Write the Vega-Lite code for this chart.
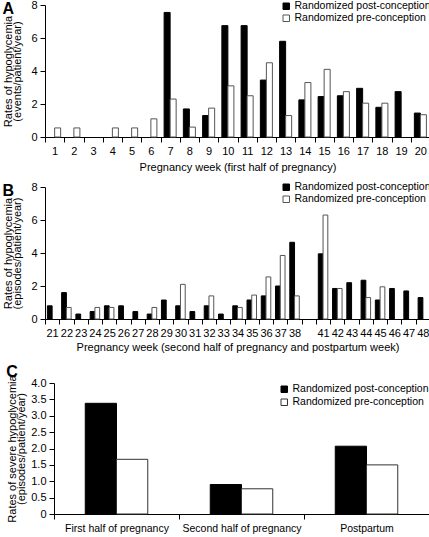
{
  "$schema": "https://vega.github.io/schema/vega-lite/v6.json",
  "padding": {"left": 2, "top": -1, "right": 0, "bottom": 0},
  "background": "white",
  "config": {
    "font": "Liberation Sans",
    "view": {"stroke": null},
    "axis": {"domainColor": "#000", "tickColor": "#000", "labelColor": "#000", "titleColor": "#000", "labelFontSize": 11, "titleFontSize": 11, "titleLineHeight": 9.5, "titleFontWeight": "normal", "grid": false, "tickSize": 5, "labelPadding": 3},
    "legend": {"labelFontSize": 10.5, "labelColor": "#000", "symbolType": "square", "symbolSize": 42, "symbolStrokeWidth": 1, "rowPadding": 1, "labelOffset": 3},
    "title": {"fontSize": 16, "fontWeight": "bold", "anchor": "start", "frame": "bounds", "color": "#000"}
  },
  "datasets": {
    "a": [
      {"week": "1", "group": "Randomized pre-conception", "rate": 0.55},
      {"week": "2", "group": "Randomized pre-conception", "rate": 0.55},
      {"week": "4", "group": "Randomized pre-conception", "rate": 0.55},
      {"week": "5", "group": "Randomized pre-conception", "rate": 0.55},
      {"week": "6", "group": "Randomized pre-conception", "rate": 1.1},
      {"week": "7", "group": "Randomized post-conception", "rate": 7.55},
      {"week": "7", "group": "Randomized pre-conception", "rate": 2.3},
      {"week": "8", "group": "Randomized post-conception", "rate": 1.7},
      {"week": "8", "group": "Randomized pre-conception", "rate": 0.6},
      {"week": "9", "group": "Randomized post-conception", "rate": 1.3},
      {"week": "9", "group": "Randomized pre-conception", "rate": 1.75},
      {"week": "10", "group": "Randomized post-conception", "rate": 6.75},
      {"week": "10", "group": "Randomized pre-conception", "rate": 3.1},
      {"week": "11", "group": "Randomized post-conception", "rate": 6.75},
      {"week": "11", "group": "Randomized pre-conception", "rate": 2.5},
      {"week": "12", "group": "Randomized post-conception", "rate": 3.45},
      {"week": "12", "group": "Randomized pre-conception", "rate": 4.5},
      {"week": "13", "group": "Randomized post-conception", "rate": 5.8},
      {"week": "13", "group": "Randomized pre-conception", "rate": 1.3},
      {"week": "14", "group": "Randomized post-conception", "rate": 2.25},
      {"week": "14", "group": "Randomized pre-conception", "rate": 3.3},
      {"week": "15", "group": "Randomized post-conception", "rate": 2.45},
      {"week": "15", "group": "Randomized pre-conception", "rate": 4.1},
      {"week": "16", "group": "Randomized post-conception", "rate": 2.5},
      {"week": "16", "group": "Randomized pre-conception", "rate": 2.75},
      {"week": "17", "group": "Randomized post-conception", "rate": 2.95},
      {"week": "17", "group": "Randomized pre-conception", "rate": 2.05},
      {"week": "18", "group": "Randomized post-conception", "rate": 1.8},
      {"week": "18", "group": "Randomized pre-conception", "rate": 2.05},
      {"week": "19", "group": "Randomized post-conception", "rate": 2.75},
      {"week": "20", "group": "Randomized post-conception", "rate": 1.45},
      {"week": "20", "group": "Randomized pre-conception", "rate": 1.35}
    ],
    "b": [
      {"week": "21", "group": "Randomized post-conception", "rate": 0.8},
      {"week": "22", "group": "Randomized post-conception", "rate": 1.6},
      {"week": "22", "group": "Randomized pre-conception", "rate": 0.7},
      {"week": "23", "group": "Randomized post-conception", "rate": 0.3},
      {"week": "24", "group": "Randomized post-conception", "rate": 0.45},
      {"week": "24", "group": "Randomized pre-conception", "rate": 0.7},
      {"week": "25", "group": "Randomized post-conception", "rate": 0.8},
      {"week": "25", "group": "Randomized pre-conception", "rate": 0.7},
      {"week": "26", "group": "Randomized post-conception", "rate": 0.8},
      {"week": "27", "group": "Randomized post-conception", "rate": 0.45},
      {"week": "28", "group": "Randomized post-conception", "rate": 0.3},
      {"week": "28", "group": "Randomized pre-conception", "rate": 0.7},
      {"week": "29", "group": "Randomized post-conception", "rate": 1.15},
      {"week": "30", "group": "Randomized post-conception", "rate": 0.8},
      {"week": "30", "group": "Randomized pre-conception", "rate": 2.1},
      {"week": "31", "group": "Randomized post-conception", "rate": 0.45},
      {"week": "32", "group": "Randomized post-conception", "rate": 0.8},
      {"week": "32", "group": "Randomized pre-conception", "rate": 1.4},
      {"week": "33", "group": "Randomized post-conception", "rate": 0.3},
      {"week": "34", "group": "Randomized post-conception", "rate": 0.8},
      {"week": "34", "group": "Randomized pre-conception", "rate": 0.7},
      {"week": "35", "group": "Randomized post-conception", "rate": 1.15},
      {"week": "35", "group": "Randomized pre-conception", "rate": 1.45},
      {"week": "36", "group": "Randomized post-conception", "rate": 1.4},
      {"week": "36", "group": "Randomized pre-conception", "rate": 2.55},
      {"week": "37", "group": "Randomized post-conception", "rate": 2.0},
      {"week": "37", "group": "Randomized pre-conception", "rate": 3.85},
      {"week": "38", "group": "Randomized post-conception", "rate": 4.65},
      {"week": "38", "group": "Randomized pre-conception", "rate": 1.4},
      {"week": "41", "group": "Randomized post-conception", "rate": 3.95},
      {"week": "41", "group": "Randomized pre-conception", "rate": 6.3},
      {"week": "42", "group": "Randomized post-conception", "rate": 1.85},
      {"week": "42", "group": "Randomized pre-conception", "rate": 1.85},
      {"week": "43", "group": "Randomized post-conception", "rate": 2.2},
      {"week": "44", "group": "Randomized post-conception", "rate": 2.35},
      {"week": "44", "group": "Randomized pre-conception", "rate": 1.3},
      {"week": "45", "group": "Randomized post-conception", "rate": 1.15},
      {"week": "45", "group": "Randomized pre-conception", "rate": 1.95},
      {"week": "46", "group": "Randomized post-conception", "rate": 1.85},
      {"week": "47", "group": "Randomized post-conception", "rate": 1.7},
      {"week": "48", "group": "Randomized post-conception", "rate": 1.3}
    ],
    "c": [
      {"period": "First half of pregnancy", "group": "Randomized post-conception", "rate": 3.38},
      {"period": "First half of pregnancy", "group": "Randomized pre-conception", "rate": 1.67},
      {"period": "Second half of pregnancy", "group": "Randomized post-conception", "rate": 0.9},
      {"period": "Second half of pregnancy", "group": "Randomized pre-conception", "rate": 0.77},
      {"period": "Postpartum", "group": "Randomized post-conception", "rate": 2.07},
      {"period": "Postpartum", "group": "Randomized pre-conception", "rate": 1.5}
    ]
  },
  "vconcat": [
    {
      "title": {"text": "A", "offset": -18},
      "width": 385,
      "height": 132,
      "data": {"name": "a"},
      "mark": {"type": "bar", "strokeWidth": 1},
      "encoding": {
        "x": {"field": "week", "type": "ordinal", "scale": {"domain": ["1","2","3","4","5","6","7","8","9","10","11","12","13","14","15","16","17","18","19","20"], "paddingInner": 0, "paddingOuter": 0}, "axis": {"labelAngle": 0, "tickBand": "extent", "title": "Pregnancy week (first half of pregnancy)", "titlePadding": 5}},
        "xOffset": {"field": "group", "type": "nominal", "scale": {"domain": ["Randomized post-conception", "Randomized pre-conception"], "paddingInner": 0, "paddingOuter": 0.6}},
        "y": {"field": "rate", "type": "quantitative", "scale": {"domain": [0, 8]}, "axis": {"values": [0, 2, 4, 6, 8], "title": ["Rates of hypoglycemia", "(events/patient/year)"], "titlePadding": 8}},
        "fill": {"field": "group", "type": "nominal", "scale": {"domain": ["Randomized post-conception", "Randomized pre-conception"], "range": ["#000000", "#ffffff"]}, "legend": {"title": null, "orient": "none", "legendX": 236, "legendY": -4}},
        "stroke": {"field": "group", "type": "nominal", "scale": {"domain": ["Randomized post-conception", "Randomized pre-conception"], "range": ["#000000", "#555555"]}, "legend": {"title": null, "orient": "none", "legendX": 236, "legendY": -4}}
      }
    },
    {
      "title": {"text": "B", "offset": -18},
      "width": 385,
      "height": 132,
      "data": {"name": "b"},
      "mark": {"type": "bar", "strokeWidth": 1},
      "encoding": {
        "x": {"field": "week", "type": "ordinal", "scale": {"domain": ["21","22","23","24","25","26","27","28","29","30","31","32","33","34","35","36","37","38","gap","41","42","43","44","45","46","47","48"], "paddingInner": 0, "paddingOuter": 0}, "axis": {"labelAngle": 0, "tickBand": "extent", "labelExpr": "datum.value == 'gap' ? '' : datum.value", "title": "Pregnancy week (second half of pregnancy and postpartum week)", "titlePadding": 3}},
        "xOffset": {"field": "group", "type": "nominal", "scale": {"domain": ["Randomized post-conception", "Randomized pre-conception"], "paddingInner": 0, "paddingOuter": 0.5}},
        "y": {"field": "rate", "type": "quantitative", "scale": {"domain": [0, 8]}, "axis": {"values": [0, 2, 4, 6, 8], "title": ["Rates of hypoglycemia", "(episodes/patient/year)"], "titlePadding": 8}},
        "fill": {"field": "group", "type": "nominal", "scale": {"domain": ["Randomized post-conception", "Randomized pre-conception"], "range": ["#000000", "#ffffff"]}, "legend": {"title": null, "orient": "none", "legendX": 236, "legendY": -5}},
        "stroke": {"field": "group", "type": "nominal", "scale": {"domain": ["Randomized post-conception", "Randomized pre-conception"], "range": ["#000000", "#555555"]}, "legend": {"title": null, "orient": "none", "legendX": 236, "legendY": -5}}
      }
    },
    {
      "title": {"text": "C", "offset": -19},
      "width": 384,
      "height": 131,
      "data": {"name": "c"},
      "mark": {"type": "bar", "strokeWidth": 1},
      "encoding": {
        "x": {"field": "period", "type": "nominal", "sort": null, "scale": {"domain": ["First half of pregnancy", "Second half of pregnancy", "Postpartum"], "paddingInner": 0, "paddingOuter": 0, "range": [9, 384]}, "axis": {"labelAngle": 0, "tickBand": "extent", "title": null, "labelFontSize": 10.5, "labelPadding": 4}},
        "xOffset": {"field": "group", "type": "nominal", "scale": {"domain": ["Randomized post-conception", "Randomized pre-conception"], "paddingInner": 0, "paddingOuter": 1.16}},
        "y": {"field": "rate", "type": "quantitative", "scale": {"domain": [0, 4]}, "axis": {"offset": -9, "values": [0, 0.5, 1, 1.5, 2, 2.5, 3, 3.5, 4], "labelExpr": "datum.value == 0 ? '0' : format(datum.value, '.1f')", "title": ["Rates of severe hypoglycemia", "(episodes/patient/year)"], "titlePadding": 4}},
        "fill": {"field": "group", "type": "nominal", "scale": {"domain": ["Randomized post-conception", "Randomized pre-conception"], "range": ["#000000", "#ffffff"]}, "legend": {"title": null, "orient": "none", "legendX": 211, "legendY": -22, "padding": 23, "rowPadding": 2}},
        "stroke": {"field": "group", "type": "nominal", "scale": {"domain": ["Randomized post-conception", "Randomized pre-conception"], "range": ["#000000", "#333333"]}, "legend": {"title": null, "orient": "none", "legendX": 211, "legendY": -22, "padding": 23, "rowPadding": 2}}
      }
    }
  ],
  "spacing": 9,
  "resolve": {"scale": {"fill": "independent", "stroke": "independent", "x": "independent", "xOffset": "independent", "y": "independent"}, "legend": {"fill": "independent", "stroke": "independent"}}
}
